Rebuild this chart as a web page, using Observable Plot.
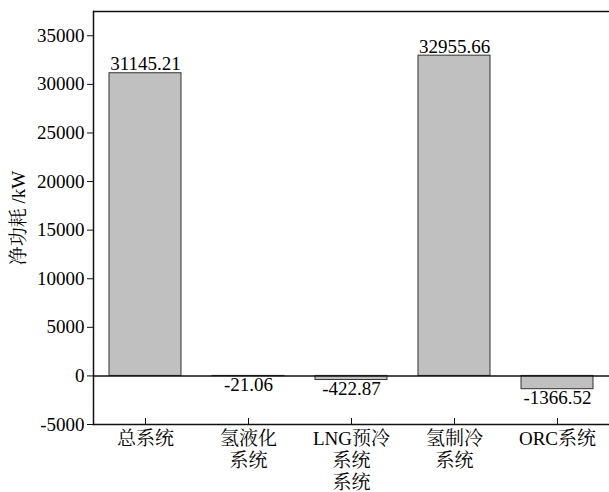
<!DOCTYPE html>
<html><head><meta charset="utf-8">
<script src="https://cdn.jsdelivr.net/npm/d3@7"></script>
<script src="https://cdn.jsdelivr.net/npm/@observablehq/plot@0.6"></script>
<style>body{margin:0;background:#fff;overflow:hidden}</style>
</head><body><div id="chart"></div>
<script>
const categories = ["总系统", "氢液化\n系统", "LNG预冷\n系统\n系统", "氢制冷\n系统", "ORC系统"];
const values = [31145.21, -21.06, -422.87, 32955.66, -1366.52];
const labels = ["31145.21", "-21.06", "-422.87", "32955.66", "-1366.52"];
const yTicks = [-5000, 0, 5000, 10000, 15000, 20000, 25000, 30000, 35000];
const yTitle = "净功耗 /kW";

const data = categories.map((c, i) => ({c, v: values[i], l: labels[i]}));
const pos = data.filter(d => d.v >= 0), neg = data.filter(d => d.v < 0);

const chart = Plot.plot({
  width: 609, height: 492,
  marginLeft: 93, marginRight: 0, marginTop: 11, marginBottom: 68,
  style: {fontFamily: "'Liberation Serif', 'Noto Serif CJK SC', 'Noto Sans CJK SC', serif", fontSize: "19px", color: "#000", background: "#fff"},
  x: {domain: categories, paddingInner: 0.3, paddingOuter: 0.15},
  y: {domain: [-5000, 37500]},
  marks: [
    Plot.barY(data, {x: "c", y: "v", fill: "#c0c0c0", stroke: "#333", strokeWidth: 1}),
    Plot.ruleY([0], {stroke: "#111", strokeWidth: 1.5}),
    Plot.ruleY([37500], {stroke: "#111", strokeWidth: 1.5}),
    Plot.ruleY([-5000], {stroke: "#111", strokeWidth: 1.5}),
    Plot.frame({anchor: "left", stroke: "#111", strokeWidth: 1.5}),
    Plot.text(pos, {x: "c", y: "v", text: "l", lineAnchor: "bottom", dy: -3, fontSize: 19, fill: "#000"}),
    Plot.text(neg, {x: "c", y: "v", text: "l", lineAnchor: "top", dy: 1, fontSize: 19, fill: "#000"}),
    Plot.axisY({ticks: yTicks, tickFormat: d => String(d), tickSize: 6, tickPadding: 3, label: null, stroke: "#111", fill: "#000"}),
    Plot.text([yTitle], {frameAnchor: "left", text: d => d, rotate: -90, dx: -75, textAnchor: "middle", fontSize: 19, fill: "#000"}),
    Plot.axisX({tickSize: -6, tickPadding: 11, label: null, lineHeight: 1.15, stroke: "#111", fill: "#000"})
  ]
});
document.getElementById("chart").appendChild(chart);
</script></body></html>
